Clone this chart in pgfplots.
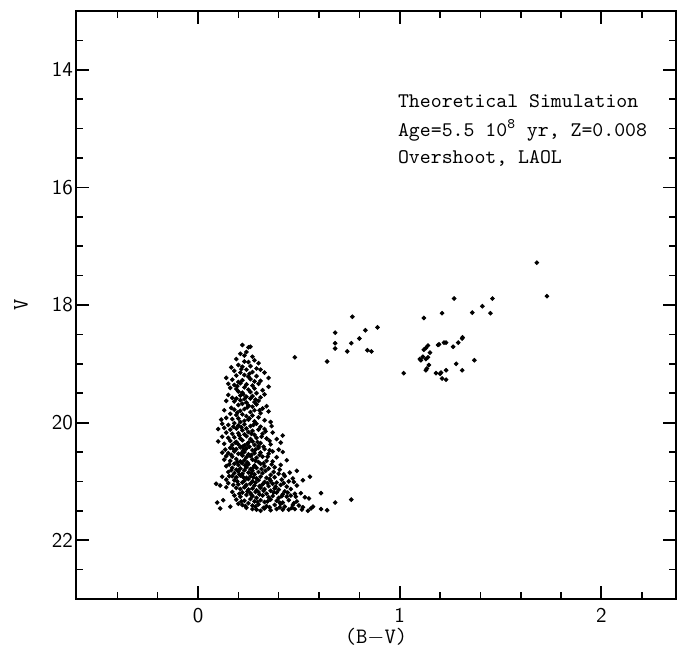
\documentclass[border=0pt]{standalone}
\usepackage{pgfplots}
\usepackage{pgfplotstable}
\pgfplotsset{compat=1.18}
\pgfplotstableread{
x y
0.22 18.68
0.26 18.71
0.25 18.72
0.24 18.80
0.23 18.86
0.27 18.88
0.28 18.94
0.30 18.99
0.23 18.96
0.19 18.92
0.21 18.83
0.25 18.97
0.165 19.06
0.20 19.02
0.22 19.05
0.26 19.04
0.29 19.08
0.31 19.10
0.24 19.10
0.18 19.12
0.21 19.15
0.27 19.14
0.33 19.15
0.14 19.24
0.19 19.20
0.23 19.19
0.25 19.22
0.29 19.21
0.35 19.24
0.17 19.27
0.22 19.28
0.26 19.26
0.31 19.29
0.20 19.31
0.28 19.30
0.15 19.34
0.18 19.36
0.21 19.33
0.24 19.35
0.27 19.37
0.30 19.34
0.35 19.39
0.16 19.41
0.19 19.43
0.23 19.40
0.25 19.44
0.28 19.42
0.32 19.45
0.20 19.47
0.22 19.49
0.26 19.48
0.29 19.50
0.15 19.53
0.17 19.58
0.21 19.54
0.24 19.56
0.27 19.55
0.31 19.57
0.33 19.52
0.19 19.59
0.23 19.60
0.26 19.59
0.14 19.63
0.18 19.64
0.21 19.62
0.24 19.66
0.28 19.65
0.30 19.63
0.34 19.72
0.165 19.75
0.20 19.70
0.22 19.68
0.25 19.71
0.27 19.73
0.29 19.69
0.32 19.76
0.13 19.79
0.18 19.78
0.21 19.80
0.23 19.77
0.26 19.82
0.28 19.79
0.31 19.84
0.35 19.81
0.16 19.85
0.19 19.87
0.22 19.86
0.24 19.89
0.27 19.88
0.30 19.91
0.115 19.95
0.14 19.92
0.17 19.94
0.20 19.93
0.23 19.97
0.25 19.95
0.28 19.98
0.33 19.96
0.36 19.99
0.21 19.99
0.12 20.02
0.15 20.04
0.18 20.01
0.20 20.05
0.23 20.03
0.26 20.06
0.29 20.02
0.31 20.07
0.365 20.06
0.10 20.11
0.13 20.09
0.16 20.12
0.19 20.10
0.22 20.13
0.24 20.10
0.27 20.14
0.30 20.12
0.33 20.11
0.37 20.17
0.14 20.17
0.17 20.19
0.20 20.18
0.23 20.20
0.25 20.16
0.28 20.21
0.32 20.19
0.42 20.22
0.12 20.24
0.15 20.26
0.18 20.25
0.21 20.27
0.24 20.23
0.26 20.28
0.29 20.26
0.34 20.27
0.39 20.28
0.16 20.31
0.19 20.33
0.22 20.30
0.25 20.34
0.27 20.32
0.31 20.35
0.41 20.34
0.10 20.32
0.13 20.36
0.17 20.38
0.20 20.37
0.23 20.39
0.28 20.38
0.36 20.37
0.22 20.41
0.30 20.40
0.135 20.46
0.16 20.43
0.19 20.45
0.21 20.42
0.24 20.44
0.27 20.47
0.30 20.43
0.33 20.45
0.40 20.46
0.42 20.50
0.12 20.51
0.15 20.52
0.18 20.49
0.20 20.53
0.23 20.50
0.25 20.54
0.28 20.52
0.31 20.51
0.35 20.53
0.37 20.49
0.14 20.57
0.17 20.58
0.22 20.56
0.24 20.59
0.26 20.57
0.29 20.60
0.32 20.58
0.39 20.59
0.44 20.64
0.13 20.63
0.16 20.65
0.19 20.62
0.21 20.66
0.23 20.64
0.27 20.63
0.30 20.67
0.34 20.65
0.37 20.66
0.18 20.70
0.20 20.72
0.22 20.69
0.25 20.71
0.28 20.73
0.31 20.70
0.33 20.74
0.41 20.72
0.14 20.74
0.17 20.77
0.21 20.78
0.24 20.76
0.26 20.79
0.29 20.77
0.35 20.78
0.38 20.76
0.19 20.80
0.23 20.81
0.27 20.82
0.455 20.85
0.49 20.82
0.12 20.92
0.555 20.92
0.15 20.84
0.18 20.86
0.20 20.83
0.22 20.87
0.25 20.85
0.28 20.88
0.30 20.84
0.32 20.86
0.36 20.89
0.40 20.87
0.17 20.91
0.19 20.93
0.21 20.90
0.24 20.94
0.26 20.91
0.29 20.95
0.31 20.92
0.34 20.94
0.38 20.93
0.43 20.91
0.47 20.95
0.14 20.97
0.18 20.98
0.23 20.99
0.25 20.96
0.27 21.00
0.30 20.98
0.33 21.01
0.36 20.99
0.39 21.02
0.45 21.00
0.52 20.98
0.09 21.04
0.11 21.07
0.15 21.03
0.20 21.05
0.22 21.02
0.24 21.06
0.26 21.04
0.28 21.07
0.32 21.05
0.35 21.08
0.37 21.04
0.41 21.06
0.44 21.09
0.49 21.07
0.14 21.10
0.17 21.18
0.19 21.11
0.21 21.13
0.23 21.10
0.25 21.14
0.27 21.12
0.29 21.15
0.31 21.11
0.33 21.13
0.36 21.16
0.38 21.12
0.40 21.14
0.43 21.17
0.46 21.13
0.51 21.20
0.61 21.20
0.22 21.19
0.26 21.20
0.30 21.18
0.34 21.21
0.39 21.19
0.42 21.22
0.48 21.21
0.125 21.32
0.095 21.36
0.11 21.46
0.18 21.24
0.21 21.26
0.24 21.23
0.27 21.25
0.29 21.28
0.32 21.24
0.35 21.27
0.37 21.25
0.40 21.28
0.44 21.26
0.46 21.24
0.53 21.27
0.55 21.29
0.19 21.31
0.23 21.33
0.26 21.30
0.28 21.34
0.31 21.32
0.33 21.35
0.36 21.31
0.39 21.33
0.42 21.36
0.45 21.32
0.49 21.34
0.68 21.36
0.76 21.31
0.20 21.38
0.22 21.40
0.25 21.37
0.27 21.41
0.30 21.39
0.34 21.42
0.38 21.40
0.41 21.38
0.43 21.43
0.47 21.40
0.50 21.41
0.52 21.44
0.57 21.43
0.24 21.45
0.27 21.47
0.31 21.50
0.33 21.46
0.36 21.49
0.39 21.47
0.42 21.48
0.45 21.48
0.48 21.47
0.56 21.46
0.61 21.47
0.64 21.49
0.16 21.43
0.29 21.48
0.215 19.09
0.255 19.17
0.195 19.38
0.225 19.52
0.285 19.61
0.245 19.74
0.195 19.83
0.255 19.93
0.305 19.79
0.175 20.07
0.215 20.08
0.275 20.04
0.335 20.15
0.205 20.22
0.265 20.19
0.315 20.24
0.355 20.31
0.185 20.34
0.245 20.36
0.295 20.33
0.325 20.41
0.175 20.45
0.225 20.47
0.255 20.41
0.285 20.46
0.355 20.47
0.165 20.55
0.215 20.52
0.265 20.55
0.305 20.55
0.345 20.58
0.195 20.67
0.245 20.68
0.285 20.65
0.325 20.69
0.365 20.71
0.155 20.71
0.235 20.73
0.275 20.76
0.315 20.79
0.405 20.80
0.165 20.81
0.205 20.88
0.265 20.86
0.335 20.82
0.375 20.84
0.425 20.88
0.155 20.91
0.225 20.93
0.275 20.93
0.355 20.96
0.415 20.97
0.195 21.00
0.285 21.02
0.345 21.03
0.425 21.03
0.475 21.01
0.175 21.06
0.235 21.08
0.305 21.08
0.385 21.09
0.245 21.17
0.285 21.18
0.325 21.16
0.375 21.19
0.445 21.19
0.205 21.21
0.265 21.23
0.305 21.22
0.415 21.25
0.485 21.26
0.215 21.34
0.295 21.35
0.345 21.34
0.405 21.36
0.475 21.37
0.235 21.42
0.285 21.43
0.325 21.45
0.355 21.44
0.405 21.44
0.465 21.45
0.515 21.48
0.545 21.50
}\mstable
\pgfplotstableread{
x y
0.48 18.89
0.64 18.96
0.68 18.74
0.68 18.65
0.68 18.47
0.74 18.79
0.76 18.65
0.765 18.20
0.80 18.57
0.83 18.43
0.84 18.77
0.86 18.79
0.89 18.38
1.02 19.16
1.12 18.22
1.10 18.92
1.105 18.94
1.115 18.88
1.12 18.76
1.13 18.73
1.14 18.69
1.15 18.81
1.13 18.92
1.14 18.89
1.145 19.02
1.13 19.11
1.135 19.08
1.18 19.16
1.20 19.17
1.205 19.15
1.21 19.25
1.23 19.27
1.23 19.11
1.19 18.68
1.195 18.67
1.22 18.64
1.23 18.64
1.21 18.14
1.27 17.89
1.265 18.71
1.29 18.64
1.31 18.57
1.312 18.55
1.28 19.00
1.31 19.11
1.36 18.13
1.37 18.94
1.41 18.02
1.45 18.14
1.46 17.89
1.68 17.28
1.73 17.85
}\gbtable
\begin{document}
\begin{tikzpicture}
\begin{axis}[
  scale only axis,
  width=300pt, height=294pt,
  xmin=-0.605, xmax=2.37,
  ymin=13, ymax=23, y dir=reverse,
  clip mode=individual,
  xtick={0,1,2},
  minor xtick={-0.4,-0.2,0.2,0.4,0.6,0.8,1.2,1.4,1.6,1.8,2.2},
  ytick={14,16,18,20,22},
  minor ytick={13.5,14.5,15,15.5,16.5,17,17.5,18.5,19,19.5,20.5,21,21.5,22.5},
  xtick pos=both, ytick pos=both,
  tick align=inside,
  major tick length=6.5pt, minor tick length=3.5pt,
  tick style={black, line width=0.9pt},
  minor tick style={black, line width=0.8pt},
  axis line style={line width=1pt},
  tick label style={font=\sffamily\fontsize{10.5}{12}\selectfont},
  /pgf/number format/assume math mode=true,
  xticklabel style={yshift=-1pt},
  yticklabel style={xshift=2pt},
  xlabel={(B$-$V)},
  label style={font=\ttfamily\fontsize{11}{12}\selectfont},
  xlabel style={at={(axis description cs:0.5,0)}, anchor=center, yshift=-19pt},
]
\addplot[only marks, mark=*, mark size=0.95pt, black] table[x=x, y=y] {\mstable};
\addplot[only marks, mark=*, mark size=0.95pt, black] table[x=x, y=y] {\gbtable};
\node[rotate=90, anchor=center, inner sep=0pt, font=\ttfamily\fontsize{11}{12}\selectfont] at (axis description cs:-0.0917,0.5) {V};
\node[anchor=west, inner sep=0pt, font=\ttfamily\fontsize{10.4}{12}\selectfont] at (axis cs:0.99,14.53) {Theoretical Simulation};
\node[anchor=west, inner sep=0pt, font=\ttfamily\fontsize{10.4}{12}\selectfont] at (axis cs:0.99,15.03) {Age=5.5 10\textsuperscript{8} yr, Z=0.008};
\node[anchor=west, inner sep=0pt, font=\ttfamily\fontsize{10.4}{12}\selectfont] at (axis cs:0.99,15.51) {Overshoot, LAOL};
\end{axis}
\pgfresetboundingbox
\path ([xshift=-38pt,yshift=-27.5pt]current axis.south west) rectangle ([xshift=3.5pt,yshift=5.5pt]current axis.north east);
\end{tikzpicture}
\end{document}
